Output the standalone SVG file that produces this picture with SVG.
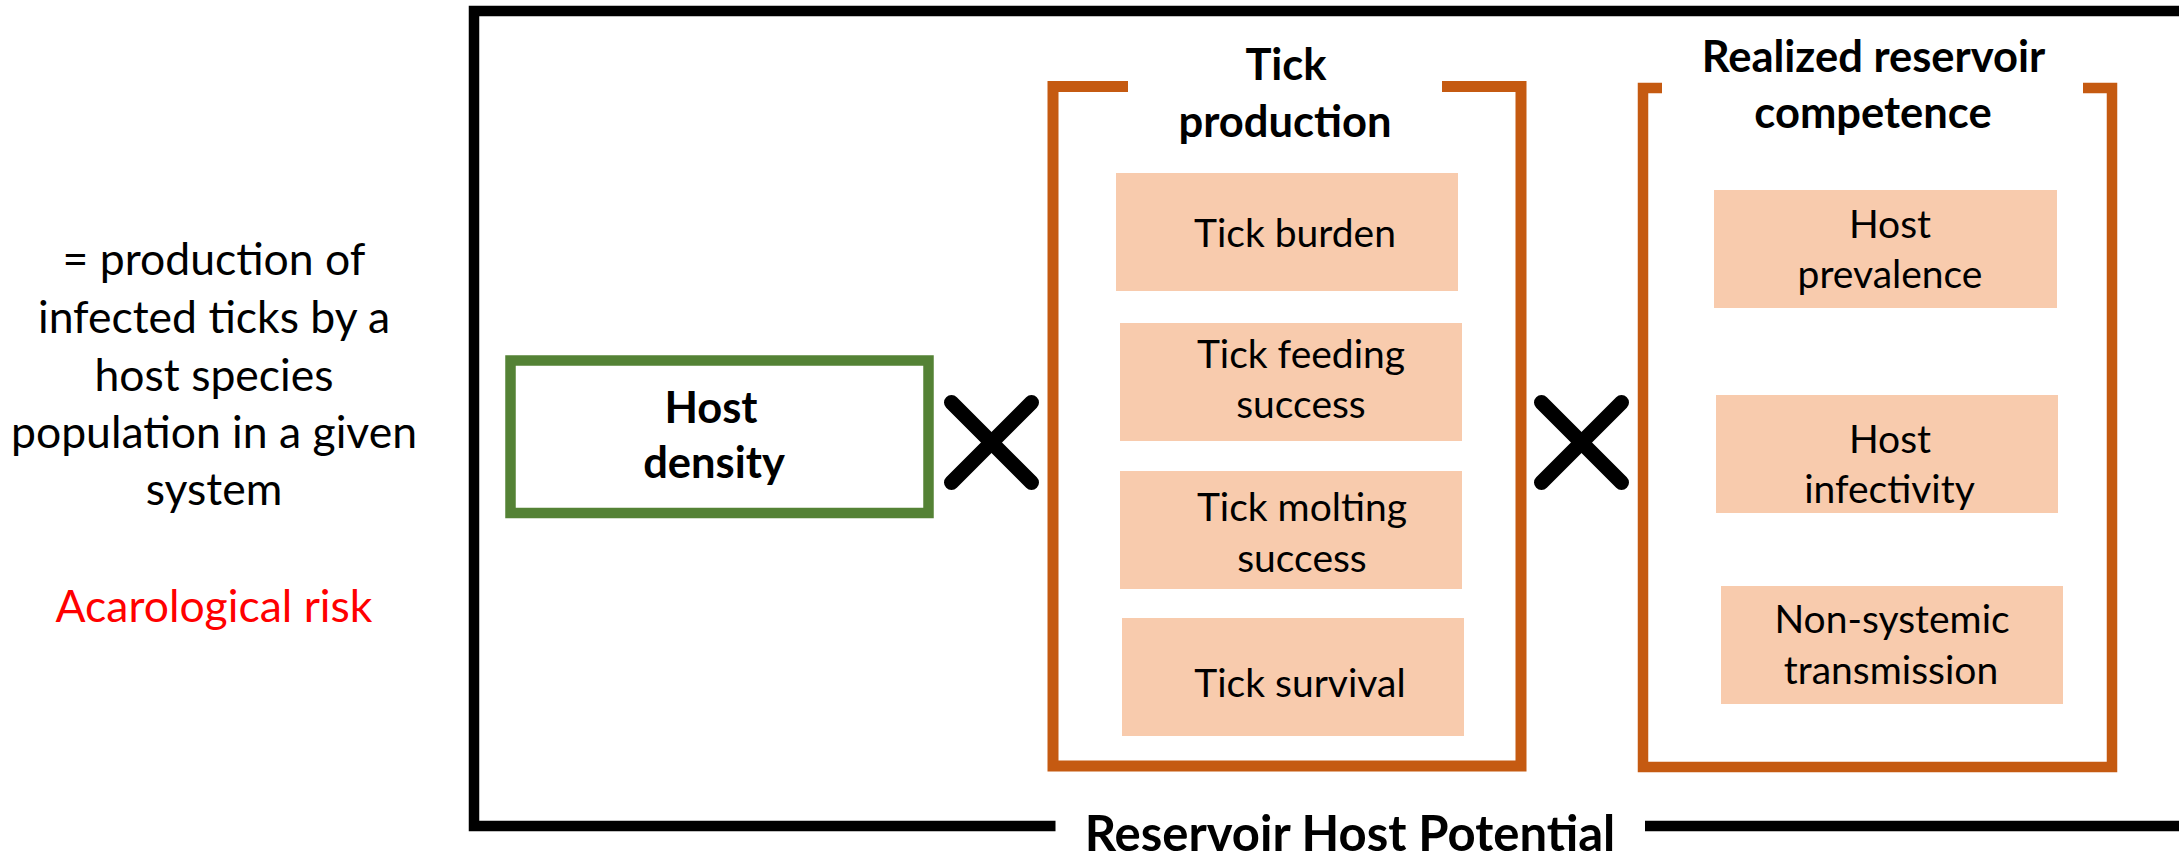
<svg xmlns="http://www.w3.org/2000/svg" width="2179" height="856" viewBox="0 0 2179 856">
<style>
.frame{fill:none;stroke:#000;stroke-width:10.5;stroke-linejoin:miter}
.bracket{fill:none;stroke:#C55A11;stroke-width:11;stroke-linejoin:miter}
.box{fill:#F8CBAD}
.hd{fill:#fff;stroke:#548235;stroke-width:10.5}
.t{font-family:Lato,"Open Sans","Liberation Sans",sans-serif;font-size:39px;fill:#000;text-anchor:middle}
.b{font-family:Lato,"Open Sans","Liberation Sans",sans-serif;font-size:43.5px;font-weight:bold;fill:#000;text-anchor:middle}
.l{font-family:Lato,"Open Sans","Liberation Sans",sans-serif;font-size:44.5px;fill:#000;text-anchor:middle}
.x{stroke:#000;stroke-width:15;stroke-linecap:round}
</style>
<rect width="2179" height="856" fill="#fff"/>
<g id="description">
<text class="l" x="214" y="275">= production of</text>
<text class="l" x="214" y="333">infected ticks by a</text>
<text class="l" x="214" y="391">host species</text>
<text class="l" x="214" y="448">population in a given</text>
<text class="l" x="214" y="505">system</text>
<text class="l" x="214" y="622" style="fill:#FF0000">Acarological risk</text>
</g>
<g id="reservoir-host-potential">
<path class="frame" d="M2200 11 H474 V826 H1055.5 M1645 826 H2200"/>
<text class="b" x="1350" y="851" style="font-size:49px">Reservoir Host Potential</text>
</g>
<g id="host-density">
<rect class="hd" x="510.5" y="360.5" width="418" height="152.5"/>
<text class="b" x="711" y="423">Host</text>
<text class="b" x="714" y="478">density</text>
</g>
<g id="connectors">
<g id="times1">
<line class="x" x1="951.5" y1="402.5" x2="1031.5" y2="482.5"/>
<line class="x" x1="1031.5" y1="402.5" x2="951.5" y2="482.5"/>
</g>
<g id="times2">
<line class="x" x1="1541.5" y1="402.5" x2="1621.5" y2="482.5"/>
<line class="x" x1="1621.5" y1="402.5" x2="1541.5" y2="482.5"/>
</g>
</g>
<g id="tick-production">
<path class="bracket" d="M1128 86.5 H1053 V766 H1521 V86.5 H1442"/>
<text class="b" x="1286" y="80">Tick</text>
<text class="b" x="1285" y="137">production</text>
</g>
<g id="tick-burden">
<rect class="box" x="1116" y="173" width="342" height="118"/>
<text class="t" x="1295" y="247">Tick burden</text>
</g>
<g id="tick-feeding-success">
<rect class="box" x="1120" y="323" width="342" height="118"/>
<text class="t" x="1301" y="368">Tick feeding</text>
<text class="t" x="1301" y="418">success</text>
</g>
<g id="tick-molting-success">
<rect class="box" x="1120" y="471" width="342" height="118"/>
<text class="t" x="1302" y="521">Tick molting</text>
<text class="t" x="1302" y="572">success</text>
</g>
<g id="tick-survival">
<rect class="box" x="1122" y="618" width="342" height="118"/>
<text class="t" x="1300" y="697">Tick survival</text>
</g>
<g id="realized-reservoir-competence">
<path class="bracket" d="M1662 88 H1643 V767 H2112 V88 H2083" style="stroke-width:10.5"/>
<text class="b" x="1873.5" y="72">Realized reservoir</text>
<text class="b" x="1873" y="128">competence</text>
</g>
<g id="host-prevalence">
<rect class="box" x="1714" y="190" width="343" height="118"/>
<text class="t" x="1890" y="238">Host</text>
<text class="t" x="1890" y="288">prevalence</text>
</g>
<g id="host-infectivity">
<rect class="box" x="1716" y="395" width="342" height="118"/>
<text class="t" x="1890" y="453">Host</text>
<text class="t" x="1889.5" y="503">infectivity</text>
</g>
<g id="non-systemic-transmission">
<rect class="box" x="1721" y="586" width="342" height="118"/>
<text class="t" x="1892" y="633">Non-systemic</text>
<text class="t" x="1891" y="684">transmission</text>
</g>
</svg>
